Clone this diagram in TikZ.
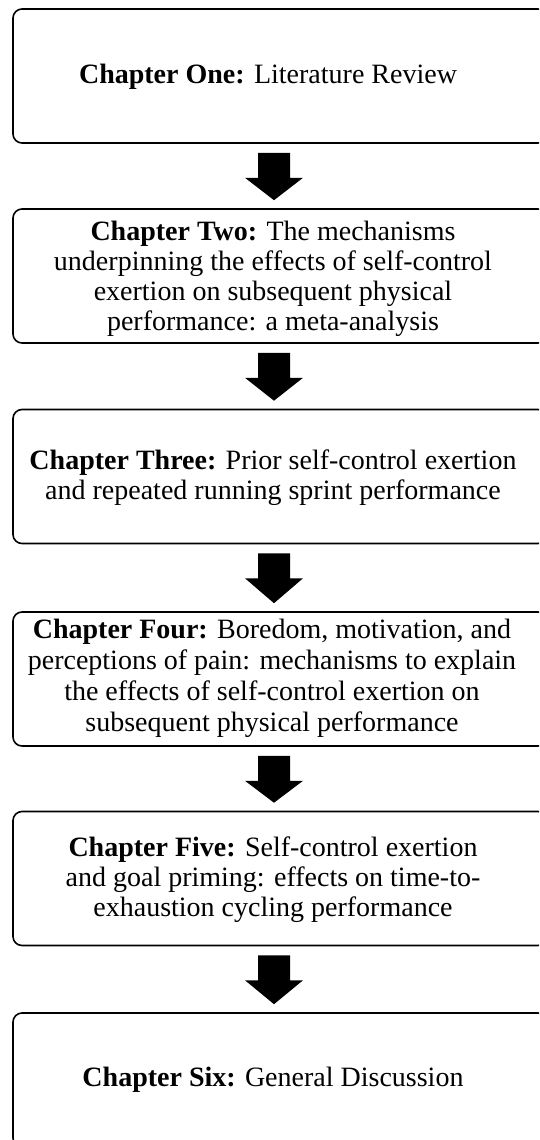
\documentclass[tikz,border=0pt]{standalone}
\usepackage{fontspec}
\setmainfont{Liberation Serif}
\usetikzlibrary{calc}
\tikzset{
  chapbox/.style={draw=black, line width=1.6pt, rounded corners=9pt,
    minimum width=534pt, minimum height=134pt, inner sep=0pt},
  chaptxt/.style={align=center, inner sep=0pt,
    font=\fontsize{28}{30}\selectfont},
  blockarrow/.style={fill=black, draw=none}
}
\newcommand\chaparrow[2]{%
  \fill[blockarrow] ($(#1.south)+(-22,9)$) -- ($(#1.south)+(10,9)$)
    -- ($(#1.south)+(10,34)$) -- ($(#1.south)+(23,34)$)
    -- ($(#2.north)+(-6,-8)$) -- ($(#1.south)+(-35,34)$)
    -- ($(#1.south)+(-22,34)$) -- cycle;}
\begin{document}
\begin{tikzpicture}[x=1pt,y=-1pt]
\useasboundingbox (0,0) rectangle (539,1140);
\clip (0,0) rectangle (539,1140);
\fill[white] (0,0) rectangle (539,1140);

\node[chapbox] (b1) at (280,76) {};
\node[chapbox] (b2) at (280,276) {};
\node[chapbox] (b3) at (280,476.5) {};
\node[chapbox] (b4) at (280,679) {};
\node[chapbox] (b5) at (280,878.5) {};
\node[chapbox] (b6) at (280,1080) {};

\node[chaptxt] (t1) at (268,77) {\textbf{Chapter One:} Literature Review};
\node[chaptxt] (t2) at (273,279) {\textbf{Chapter Two:} The mechanisms\\
  underpinning the effects of self-control\\
  exertion on subsequent physical\\
  performance: a meta-analysis};
\node[chaptxt] (t3) at (273,478) {\textbf{Chapter Three:} Prior self-control exertion\\
  and repeated running sprint performance};
\node[chaptxt, font=\fontsize{28}{31}\selectfont] (t4) at (272,678) {\textbf{Chapter Four:} Boredom, motivation, and\\
  perceptions of pain: mechanisms to explain\\
  the effects of self-control exertion on\\
  subsequent physical performance};
\node[chaptxt] (t5) at (273,880) {\textbf{Chapter Five:} Self-control exertion\\
  and goal priming: effects on time-to-\\
  exhaustion cycling performance};
\node[chaptxt] (t6) at (273,1080) {\textbf{Chapter Six:} General Discussion};

\chaparrow{b1}{b2}
\chaparrow{b2}{b3}
\chaparrow{b3}{b4}
\chaparrow{b4}{b5}
\chaparrow{b5}{b6}
\end{tikzpicture}
\end{document}
